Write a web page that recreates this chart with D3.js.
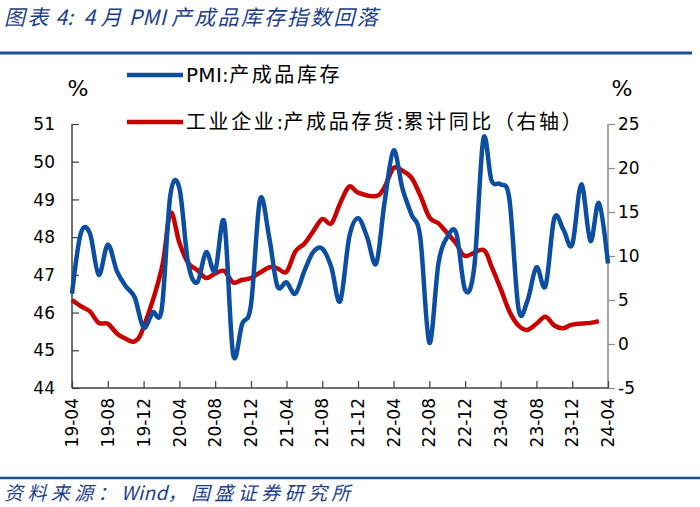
<!DOCTYPE html>
<html><head><meta charset="utf-8">
<script src="https://cdn.jsdelivr.net/npm/d3@7/dist/d3.min.js"></script>
<style>
html,body{margin:0;padding:0;background:#fff;}
svg{display:block;}
</style></head>
<body>
<svg id="c" width="700" height="507"></svg>
<script>
// ---- data ----
const startMonth = "2019-04";
const endMonth = "2024-04";
const pmiInventory = [
  46.5,48.1,48.1,47.0,47.8,47.1,46.7,46.4,45.6,
  46.0,46.1,49.1,49.3,47.3,46.8,47.6,47.1,48.4,44.9,45.7,46.2,
  49.0,48.0,46.7,46.8,46.5,47.1,47.6,47.7,47.2,46.3,48.0,48.5,
  48.0,47.3,48.9,50.3,49.3,48.6,48.0,45.2,47.3,48.0,48.1,46.6,
  47.2,50.6,49.5,49.4,49.0,46.1,46.3,47.2,46.7,48.5,48.2,47.8,
  49.4,47.9,48.9,47.3
];
const industrialInvYoY = [
  5.0,4.3,3.7,2.4,2.3,1.2,0.6,0.3,1.9,
  null,8.6,14.9,11.5,9.2,8.4,7.5,8.0,8.3,7.0,7.3,7.5,
  null,8.7,8.6,8.2,10.5,11.4,12.8,14.2,13.7,16.0,17.9,17.2,
  null,16.8,17.8,20.0,19.7,18.9,16.9,14.4,13.7,12.6,11.4,10.0,
  null,10.7,8.8,6.3,3.7,2.1,1.6,2.3,3.1,2.1,1.8,2.2,
  null,2.4,2.6,null
];
const xTickLabels = ["19-04","19-08","19-12","20-04","20-08","20-12","21-04","21-08","21-12","22-04","22-08","22-12","23-04","23-08","23-12","24-04"];
const leftTicks = [44,45,46,47,48,49,50,51];
const rightTicks = [-5,0,5,10,15,20,25];
const seriesNames = ["PMI:产成品库存","工业企业:产成品存货:累计同比（右轴）"];
const titleText = "图表 4:  4 月 PMI 产成品库存指数回落";
const sourceText = "资料来源：Wind，国盛证券研究所";

// ---- layout ----
const svg = d3.select("#c");
const L = 72, R = 608, T = 124, B = 388;
const parse = d3.timeParse("%Y-%m");
const fmt = d3.timeFormat("%y-%m");
const months = d3.timeMonth.range(parse(startMonth), d3.timeMonth.offset(parse(endMonth),1));
const x = d3.scaleTime().domain([months[0], months[months.length-1]]).range([L,R]);
const yL = d3.scaleLinear().domain([44,51]).range([B,T]);
const yR = d3.scaleLinear().domain([-5,25]).range([B,T]);
const blue = "#0c4ea2", red = "#c80000", titleBlue = "#1b3f8e";
const cjk = "'Noto Sans CJK SC', sans-serif";
const numFont = "'DejaVu Sans', sans-serif";

// text with letter-spacing only on CJK runs
function spaced(sel, str, sp){
  const runs = str.match(/[\u3000-\u9fff\uff00-\uffef]+|[^\u3000-\u9fff\uff00-\uffef]+/g);
  runs.forEach(r=>{
    const isCJK = /[\u3000-\u9fff\uff00-\uffef]/.test(r);
    sel.append("tspan").attr("letter-spacing", isCJK ? sp : 0.3).text(r);
  });
  return sel;
}

// title
spaced(svg.append("text").attr("x",4).attr("y",25)
  .attr("font-family",cjk).attr("font-style","italic").attr("font-size",21)
  .attr("fill",titleBlue).attr("xml:space","preserve").style("white-space","pre"), titleText, 2.2);
svg.append("line").attr("x1",0).attr("x2",692).attr("y1",53).attr("y2",53)
  .attr("stroke","#1f4e9a").attr("stroke-width",3);
svg.append("line").attr("x1",0).attr("x2",700).attr("y1",478).attr("y2",478)
  .attr("stroke","#1f4e9a").attr("stroke-width",2.5);
spaced(svg.append("text").attr("x",4).attr("y",500)
  .attr("font-family",cjk).attr("font-style","italic").attr("font-size",19)
  .attr("fill",titleBlue), sourceText, 4.4);

// axes
const gL = svg.append("g").attr("transform",`translate(${L},0)`)
  .call(d3.axisRight(yL).tickValues(leftTicks).tickSize(7).tickFormat(""));
gL.select(".domain").attr("stroke","#404040").attr("stroke-width",1.5).attr("d",`M0,${T}V${B}`);
gL.selectAll(".tick line").attr("stroke","#404040").attr("stroke-width",1.2);
const gR = svg.append("g").attr("transform",`translate(${R},0)`)
  .call(d3.axisRight(yR).tickValues(rightTicks).tickSize(7).tickFormat(""));
gR.select(".domain").attr("stroke","#8c8c8c").attr("stroke-width",1.5).attr("d",`M0,${T}V${B}`);
gR.selectAll(".tick line").attr("stroke","#8c8c8c").attr("stroke-width",1.2);

svg.selectAll(".ltl").data(leftTicks).enter().append("text")
  .attr("x",55).attr("y",d=>yL(d)).attr("dy","0.36em").attr("text-anchor","end")
  .attr("font-family",numFont).attr("font-size",17).text(d=>d);
svg.selectAll(".rtl").data(rightTicks).enter().append("text")
  .attr("x",618).attr("y",d=>yR(d)).attr("dy","0.36em").attr("text-anchor","start")
  .attr("font-family",numFont).attr("font-size",17).text(d=>d);

const xTicks = xTickLabels.map(s=>parse("20"+s));
const gX = svg.append("g").attr("transform",`translate(0,${B})`)
  .call(d3.axisTop(x).tickValues(xTicks).tickSize(7).tickFormat(""));
gX.select(".domain").attr("stroke","#404040").attr("stroke-width",1.5).attr("d",`M${L},0H${R}`);
gX.selectAll(".tick line").attr("stroke","#404040").attr("stroke-width",1.2);
svg.selectAll(".xtl").data(xTicks).enter().append("text")
  .attr("transform",d=>`translate(${x(d)},${B+10}) rotate(-90)`)
  .attr("text-anchor","end").attr("dy","0.36em")
  .attr("font-family",numFont).attr("font-size",17).text(d=>fmt(d));

// percent labels
svg.append("text").attr("x",78).attr("y",88).attr("dy","0.36em").attr("text-anchor","middle")
  .attr("font-family",numFont).attr("font-size",22).text("%");
svg.append("text").attr("x",622).attr("y",88).attr("dy","0.36em").attr("text-anchor","middle")
  .attr("font-family",numFont).attr("font-size",22).text("%");

// lines
const curve = d3.curveCatmullRom.alpha(0);
const blueData = months.map((m,i)=>({m, v:pmiInventory[i]})).filter(d=>d.v!=null);
const redData = months.map((m,i)=>({m, v:industrialInvYoY[i]})).filter(d=>d.v!=null);
svg.append("path").datum(redData)
  .attr("d", d3.line().x(d=>x(d.m)).y(d=>yR(d.v)).curve(curve))
  .attr("fill","none").attr("stroke",red).attr("stroke-width",4.5).attr("stroke-linejoin","round");
svg.append("path").datum(blueData)
  .attr("d", d3.line().x(d=>x(d.m)).y(d=>yL(d.v)).curve(curve))
  .attr("fill","none").attr("stroke",blue).attr("stroke-width",4.5).attr("stroke-linejoin","round");

// legend
const leg = [{y:75,c:blue,t:seriesNames[0]},{y:122,c:red,t:seriesNames[1]}];
leg.forEach(l=>{
  svg.append("line").attr("x1",127).attr("x2",183).attr("y1",l.y).attr("y2",l.y)
    .attr("stroke",l.c).attr("stroke-width",4.5);
  spaced(svg.append("text").attr("x",186).attr("y",l.y).attr("dy","0.36em")
    .attr("font-family","'DejaVu Sans', 'Noto Sans CJK SC', sans-serif").attr("font-size",20)
    .attr("fill","#000"), l.t, 2.6);
});
</script>
</body></html>
